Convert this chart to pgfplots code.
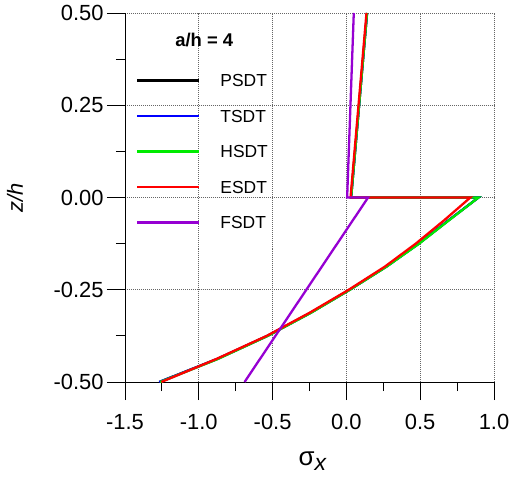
\documentclass[border=0pt]{standalone}
\usepackage{fontspec}
\setmainfont{Liberation Sans}
\usepackage{pgfplots}
\pgfplotsset{compat=1.18}
\definecolor{cblue}{RGB}{0,0,255}
\definecolor{cgreen}{RGB}{0,235,0}
\definecolor{cred}{RGB}{255,0,0}
\definecolor{cpurple}{RGB}{150,0,210}
\begin{document}
\begin{tikzpicture}
\begin{axis}[
  scale only axis, width=369bp, height=369bp,
  xmin=-1.5, xmax=1, ymin=-0.5, ymax=0.5,
  axis x line*=bottom, axis y line*=left,
  axis line style={black, line width=0.8pt},
  xtick={-1.5,-1,-0.5,0,0.5,1},
  ytick={-0.5,-0.25,0,0.25,0.5},
  minor xtick={-1.25,-0.75,-0.25,0.25,0.75},
  minor ytick={-0.375,-0.125,0.125,0.375},
  tick align=outside, major tick length=18bp, minor tick length=9bp,
  tick style={black, line width=0.8pt},
  grid=major, major grid style={black!60, dash pattern=on 1pt off 1pt, line width=0.6pt},
  /pgf/number format/assume math mode=true,
  tick label style={font=\fontsize{22}{26}\selectfont},
  xticklabel style={yshift=-11bp, /pgf/number format/fixed, /pgf/number format/fixed zerofill, /pgf/number format/precision=1},
  yticklabel style={/pgf/number format/fixed, /pgf/number format/fixed zerofill, /pgf/number format/precision=2},
  xlabel={σ\raisebox{-5bp}{\fontsize{23}{24}\selectfont\itshape x}},
  xlabel style={font=\fontsize{26}{30}\selectfont, at={(axis description cs:0.508,-0.226)}, anchor=base},
  ylabel={\itshape z/h},
  ylabel style={font=\fontsize{22}{26}\selectfont, at={(axis description cs:-0.298,0.5)}, anchor=center},
  legend cell align=left,
  legend style={at={(axis description cs:0.03,0.84)}, anchor=north west, draw=none, fill=none,
    font=\fontsize{17.5}{20}\selectfont, row sep=19bp, inner sep=0pt,
    nodes={inner sep=2bp, text height=12.5bp, text depth=0bp}},
  legend image code/.code={\draw[#1, line width=2.3pt] (0bp,0bp) -- (62bp,0bp); \path[draw=none,fill=none] (0bp,0bp) -- (81bp,0bp);},
]
\addplot[black, line width=2.3pt] coordinates {(-1.268,-0.5) (-0.875,-0.4375) (-0.535,-0.375) (-0.243,-0.3125) (0.022,-0.25) (0.27,-0.1875) (0.49,-0.125) (0.69,-0.0625) (0.895,0) (0.032,0) (0.14,0.5)};
\addlegendentry{PSDT}
\addplot[cblue, line width=2.3pt] coordinates {(-1.268,-0.5) (-0.875,-0.4375) (-0.535,-0.375) (-0.243,-0.3125) (0.022,-0.25) (0.27,-0.1875) (0.49,-0.125) (0.69,-0.0625) (0.895,0) (0.032,0) (0.14,0.5)};
\addlegendentry{TSDT}
\addplot[cgreen, line width=2.3pt] coordinates {(-1.262,-0.5) (-0.87,-0.4375) (-0.532,-0.375) (-0.24,-0.3125) (0.024,-0.25) (0.272,-0.1875) (0.493,-0.125) (0.693,-0.0625) (0.895,0) (0.032,0) (0.14,0.5)};
\addlegendentry{HSDT}
\addplot[cred, line width=2.3pt] coordinates {(-1.254,-0.5) (-0.88,-0.4375) (-0.54,-0.375) (-0.25,-0.3125) (0.016,-0.25) (0.26,-0.1875) (0.47,-0.125) (0.66,-0.0625) (0.84,0) (0.028,0) (0.136,0.5)};
\addlegendentry{ESDT}
\addplot[cpurple, line width=2.3pt] coordinates {(-0.69,-0.5) (0.147,0) (0.005,0) (0.05,0.5)};
\addlegendentry{FSDT}
\node[font=\bfseries\fontsize{18.5}{22}\selectfont, anchor=base] at (axis cs:-0.963,0.409) {a/h = 4};
\coordinate (bbsw) at (rel axis cs:-0.33875,-0.26287);
\coordinate (bbne) at (rel axis cs:1.04878,1.03523);
\end{axis}
\pgfresetboundingbox
\path (bbsw) rectangle (bbne);
\end{tikzpicture}
\end{document}
